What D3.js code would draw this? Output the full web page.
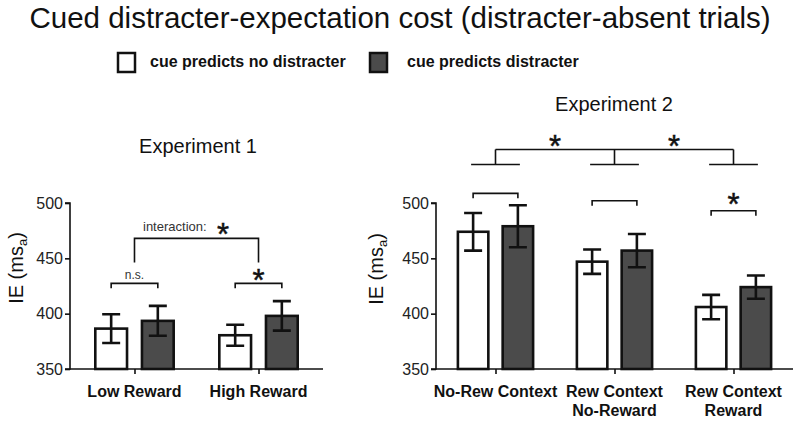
<!DOCTYPE html>
<html><head><meta charset="utf-8">
<script src="https://cdn.jsdelivr.net/npm/d3@7"></script>
<style>body{margin:0;background:#fff}svg{display:block}text{font-family:"Liberation Sans",Arial,Helvetica,sans-serif}</style>
</head><body>
<svg id="c" width="800" height="422"></svg>
<script>
// ---- data ----
const seriesNames = ["cue predicts no distracter", "cue predicts distracter"];
const exp1Categories = [["Low Reward"], ["High Reward"]];
const exp1NoDistracter = [386.5, 380.5];
const exp1NoDistracterErr = [13, 9.5];
const exp1Distracter = [393.5, 398];
const exp1DistracterErr = [13.5, 13.3];
const exp2Categories = [["No-Rew Context"], ["Rew Context", "No-Reward"], ["Rew Context", "Reward"]];
const exp2NoDistracter = [474, 447, 406];
const exp2NoDistracterErr = [17, 11, 11];
const exp2Distracter = [479, 457, 424];
const exp2DistracterErr = [19, 15, 10.5];
const yTicks = [350, 400, 450, 500];

const svg = d3.select("#c");
const ink = "#111";
const darkFill = "#4b4b4b";

svg.append("text").attr("x", 400).attr("y", 28).attr("text-anchor", "middle")
  .attr("font-size", 29.5).attr("fill", ink)
  .text("Cued distracter-expectation cost (distracter-absent trials)");

// legend
const legend = [{x: 118, tx: 150, fill: "#fff"}, {x: 370, tx: 407, fill: darkFill}];
legend.forEach((l, i) => {
  svg.append("rect").attr("x", l.x).attr("y", 53).attr("width", 17).attr("height", 19)
    .attr("fill", l.fill).attr("stroke", ink).attr("stroke-width", 2.5);
  svg.append("text").attr("x", l.tx).attr("y", 67).attr("font-size", 16).attr("font-weight", "bold")
    .attr("fill", ink).text(seriesNames[i]);
});

const y = d3.scaleLinear().domain([350, 500]).range([369, 203]);

function panel(opts) {
  const g = svg.append("g");
  const x0 = d3.scalePoint().domain(opts.cats.map((d, i) => i)).range(opts.xr).padding(opts.pad);
  const step = x0.step();
  const x1 = d3.scaleBand().domain([0, 1]).range([-0.316 * step, 0.316 * step]).paddingInner(0.32);
  const bw = x1.bandwidth();
  // axes
  const ya = d3.axisLeft(y).tickValues(yTicks).tickSize(5).tickPadding(2);
  const yg = g.append("g").attr("transform", `translate(${opts.xr[0]},0)`).call(ya);
  yg.select(".domain").attr("stroke", ink).attr("stroke-width", 1.6).attr("d", `M-5,${y(350)}H0V${y(500)}H-5`);
  yg.selectAll(".tick line").attr("stroke", ink).attr("stroke-width", 1.6);
  yg.selectAll(".tick text").attr("font-size", 16).attr("fill", "#222").attr("font-family", "Liberation Sans, Arial, sans-serif");
  const xa = d3.axisBottom(x0).tickSize(5).tickFormat("");
  const xg = g.append("g").attr("transform", `translate(0,${y(350)})`).call(xa);
  xg.select(".domain").attr("stroke", ink).attr("stroke-width", 1.6).attr("d", `M${opts.xr[0]},0H${opts.xr[1]}`);
  xg.selectAll(".tick line").attr("stroke", ink).attr("stroke-width", 1.6);
  opts.cats.forEach((lines, i) => {
    lines.forEach((t, j) => {
      g.append("text").attr("x", x0(i)).attr("y", 397 + j * 18.5).attr("text-anchor", "middle")
        .attr("font-size", 16).attr("font-weight", "bold").attr("fill", ink).text(t);
    });
  });
  // y label
  const yl = g.append("text").attr("transform", `translate(${opts.ylx},${opts.yly}) rotate(-90)`)
    .attr("text-anchor", "middle").attr("font-size", 20).attr("fill", ink);
  yl.append("tspan").text("IE (ms");
  yl.append("tspan").attr("font-size", 13).attr("dy", 4).text("a");
  yl.append("tspan").attr("dy", -4).text(")");
  // title
  g.append("text").attr("x", opts.tx).attr("y", opts.ty).attr("text-anchor", "middle")
    .attr("font-size", 20).attr("fill", ink).text(opts.title);
  // bars
  const series = [
    {vals: opts.a, errs: opts.ae, fill: "#fff"},
    {vals: opts.b, errs: opts.be, fill: darkFill}
  ];
  series.forEach((s, si) => {
    s.vals.forEach((v, i) => {
      const cx = x0(i) + x1(si);
      g.append("rect").attr("x", cx).attr("y", y(v)).attr("width", bw).attr("height", y(350) - y(v))
        .attr("fill", s.fill).attr("stroke", ink).attr("stroke-width", 2.6);
      const mx = cx + bw / 2, e = s.errs[i];
      g.append("path").attr("d", `M${mx},${y(v + e)}V${y(v - e)}M${mx - 9},${y(v + e)}H${mx + 9}M${mx - 9},${y(v - e)}H${mx + 9}`)
        .attr("stroke", ink).attr("stroke-width", 2.6).attr("fill", "none");
    });
  });
  return {g, x0, x1, bw};
}

function bracket(g, xa, xb, yy, leg) {
  g.append("path").attr("d", `M${xa},${yy + leg}V${yy}H${xb}V${yy + leg}`)
    .attr("stroke", ink).attr("stroke-width", 1.6).attr("fill", "none");
}
function star(g, x, yc) {
  g.append("text").attr("x", x).attr("y", yc + 17).attr("text-anchor", "middle")
    .attr("font-size", 31).attr("fill", ink).attr("stroke", ink).attr("stroke-width", 0.5).text("*");
}

// Experiment 1
const p1 = panel({cats: exp1Categories, xr: [70, 323], pad: 0.52, a: exp1NoDistracter, ae: exp1NoDistracterErr,
  b: exp1Distracter, be: exp1DistracterErr, ylx: 23, yly: 268, title: "Experiment 1", tx: 198, ty: 153});
{
  const {g, x0, x1, bw} = p1;
  const c = (i, s) => x0(i) + x1(s) + bw / 2;
  bracket(g, c(0, 0), c(0, 1), y(427.4), 5);
  g.append("text").attr("x", (c(0, 0) + c(0, 1)) / 2).attr("y", 279).attr("text-anchor", "middle")
    .attr("font-size", 12).attr("fill", "#333").text("n.s.");
  bracket(g, c(1, 0), c(1, 1), y(427.4), 5);
  star(g, (c(1, 0) + c(1, 1)) / 2, 274);
  bracket(g, x0(0), x0(1), y(468), 24);
  g.append("text").attr("x", 143).attr("y", 231).attr("font-size", 13).attr("fill", "#333").text("interaction:");
  star(g, 223, 228);
}

// Experiment 2
const p2 = panel({cats: exp2Categories, xr: [436, 793], pad: 0.5, a: exp2NoDistracter, ae: exp2NoDistracterErr,
  b: exp2Distracter, be: exp2DistracterErr, ylx: 383, yly: 269, title: "Experiment 2", tx: 614, ty: 111});
{
  const {g, x0, x1, bw} = p2;
  const c = (i, s) => x0(i) + x1(s) + bw / 2;
  bracket(g, c(0, 0), c(0, 1), y(508.7), 5);
  bracket(g, c(1, 0), c(1, 1), y(502), 5);
  bracket(g, c(2, 0), c(2, 1), y(493), 5);
  star(g, (c(2, 0) + c(2, 1)) / 2, 198);
  [0, 1, 2].forEach(i => {
    g.append("path").attr("d", `M${c(i, 0) - 2},164.5H${c(i, 1) + 2}M${x0(i)},164.5V149.5`)
      .attr("stroke", ink).attr("stroke-width", 1.6).attr("fill", "none");
  });
  g.append("path").attr("d", `M${x0(0)},149.5H${x0(2)}`).attr("stroke", ink).attr("stroke-width", 1.6);
  star(g, (x0(0) + x0(1)) / 2, 140);
  star(g, (x0(1) + x0(2)) / 2, 140);
}
</script>
</body></html>
